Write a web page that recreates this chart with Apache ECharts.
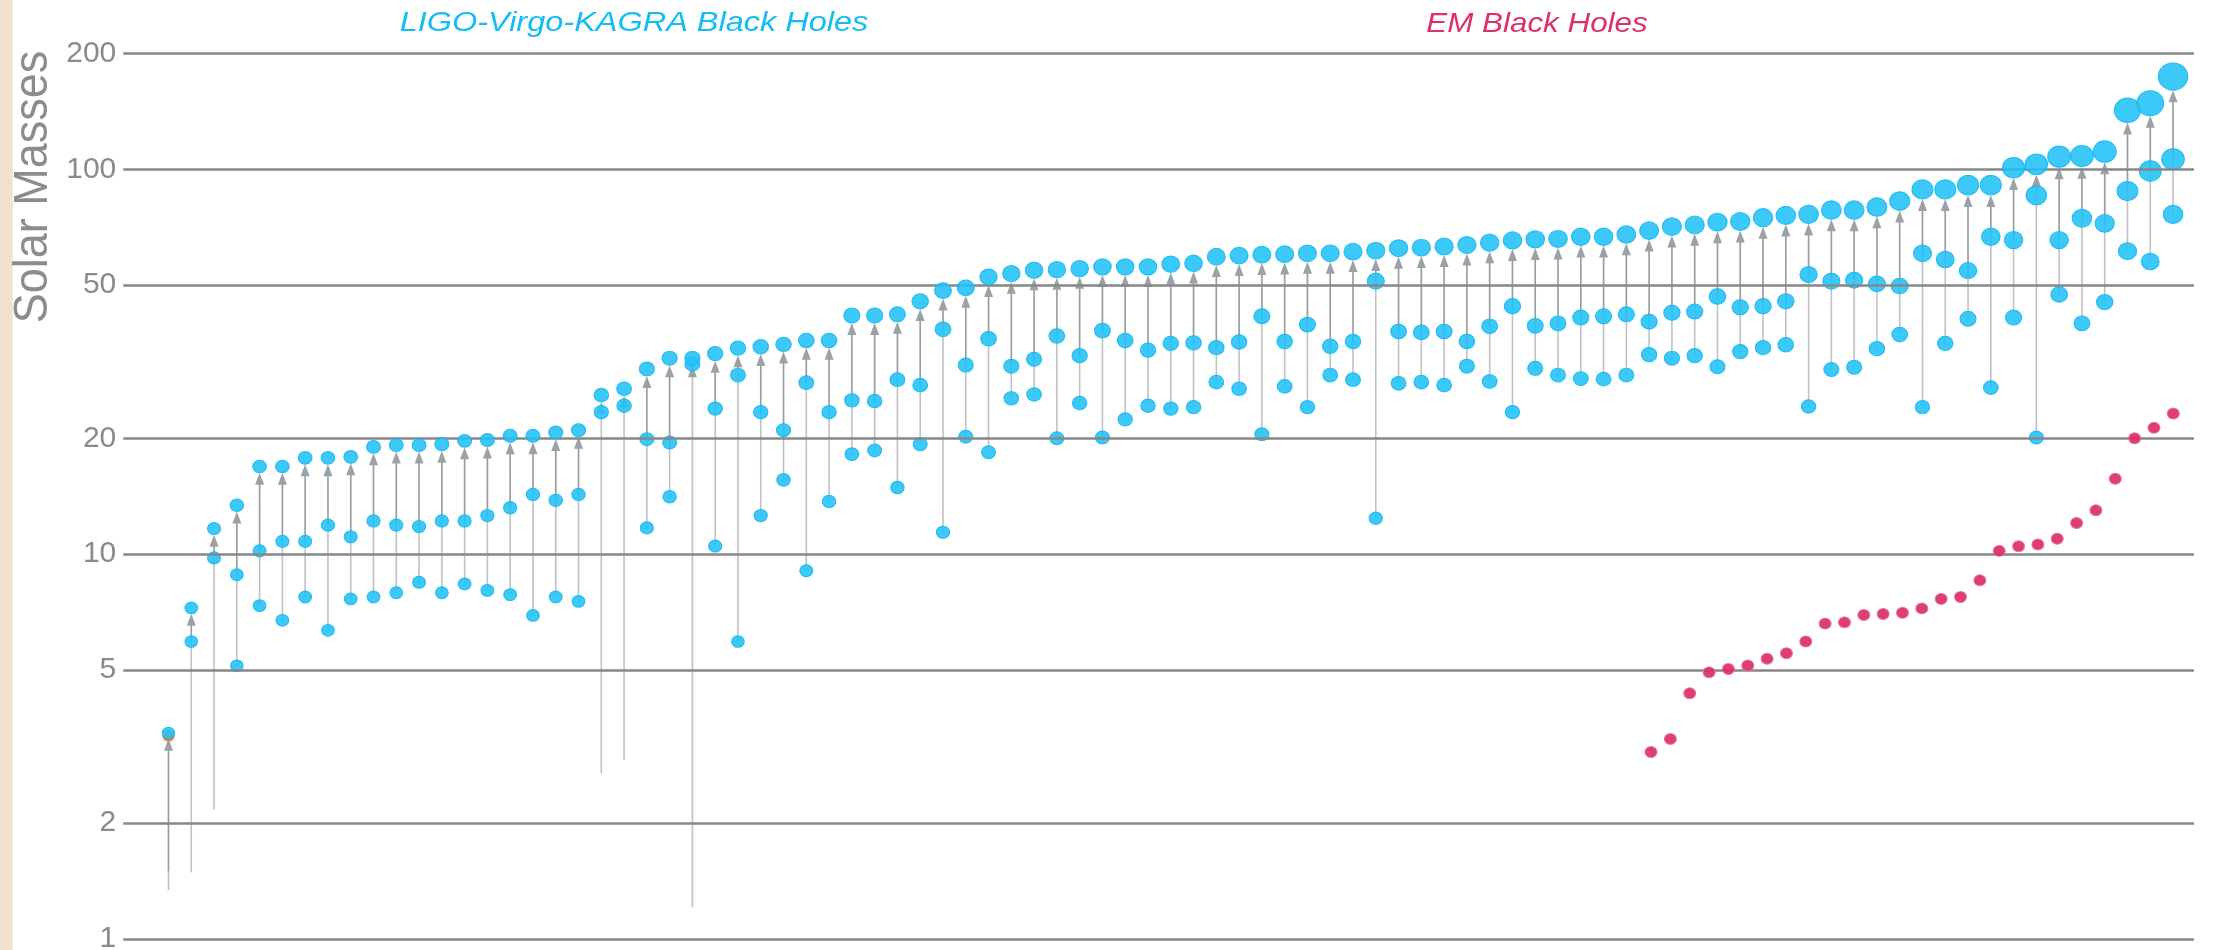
<!DOCTYPE html>
<html><head><meta charset="utf-8">
<script src="https://cdn.jsdelivr.net/npm/echarts@6/dist/echarts.min.js"></script>
<style>html,body{margin:0;padding:0;background:#fff}#c{width:2215px;height:950px}</style>
</head><body><div id="c"></div>
<script>
// ---- data (solar masses), events sorted by final mass ----
const finalMass = [3.43,7.25,11.65,13.4,16.9,16.9,17.8,17.8,17.9,19.0,19.2,19.2,19.3,19.7,19.8,20.3,20.3,20.7,21.0,25.9,26.9,30.3,32.3,32.3,33.2,34.3,34.6,35.1,35.9,35.9,41.7,41.7,42.0,45.4,48.4,49.2,52.5,53.6,54.7,54.9,55.2,55.8,55.8,55.8,56.7,57.0,59.3,59.7,60.0,60.2,60.5,60.5,61.1,61.5,62.4,62.6,63.0,63.6,64.5,65.4,65.8,66.0,66.8,66.8,67.7,69.3,71.0,71.7,72.9,73.2,74.9,75.9,76.4,78.4,78.4,79.8,82.7,88.7,88.7,91.0,91.0,101.0,103.1,107.9,108.3,111.2,142.4,148.5,174.2];
const primaryMass = [1.5,5.93,9.78,8.84,10.2,10.8,10.8,11.9,11.1,12.2,11.9,11.8,12.2,12.2,12.6,13.2,14.3,13.8,14.3,23.4,24.3,19.9,19.5,31.2,23.9,29.2,23.4,21.0,27.9,23.4,25.1,25.0,28.4,27.5,38.4,31.0,36.3,30.8,32.1,36.9,32.8,38.1,35.9,33.9,35.3,35.4,34.4,35.6,41.5,35.7,39.5,34.7,35.7,51.2,37.9,37.7,37.9,35.7,39.1,44.1,39.2,39.8,41.2,41.5,42.0,40.2,42.4,42.7,46.7,43.8,44.1,45.4,53.3,51.2,51.5,50.4,49.7,60.5,58.3,54.6,66.8,65.5,85.6,65.5,74.6,72.4,87.8,99.0,106.2];
const secondaryMass = [1.34,1.49,2.17,5.13,7.35,6.73,7.74,6.34,7.65,7.74,7.94,8.45,7.94,8.37,8.05,7.85,6.93,7.74,7.54,2.69,2.92,11.7,14.1,1.21,10.5,5.93,12.6,15.6,9.06,13.7,18.2,18.6,14.9,19.3,11.4,20.2,18.4,25.4,26.0,20.0,24.7,20.1,22.4,24.3,23.9,24.1,28.0,26.9,20.5,27.3,24.1,29.2,28.4,12.4,27.8,28.0,27.5,30.8,28.1,23.4,30.4,29.2,28.6,28.5,29.2,33.0,32.3,32.8,30.7,33.6,34.4,35.0,24.2,30.2,30.6,34.2,37.2,24.1,35.3,40.9,27.1,41.2,20.1,47.3,39.8,45.2,61.3,57.6,76.4];
const emMass = [3.06,3.31,4.35,4.93,5.03,5.14,5.35,5.53,5.93,6.6,6.65,6.95,6.99,7.04,7.23,7.65,7.74,8.55,10.2,10.48,10.6,10.97,12.05,13.0,15.7,20.0,21.3,23.2];
const yTicks = [1,2,5,10,20,50,100,200];
const groupTitles = ['LIGO-Virgo-KAGRA Black Holes','EM Black Holes'];
const yName = 'Solar Masses';
const BH_MIN = 3; // lighter components (neutron stars) get a stem but no dot

// ---- derived ----
const dotSize = m => { const w = 12 + 0.1 * m; return [w, w * 0.93]; };
const eventRows = finalMass.map((f, i) => [i, f, primaryMass[i], secondaryMass[i]]);
const finalPts = finalMass.map((f, i) => [i, f]);
const compPts = [];
primaryMass.forEach((m, i) => { if (m >= BH_MIN) compPts.push([i, m]); });
secondaryMass.forEach((m, i) => { if (m >= BH_MIN) compPts.push([i, m]); });
const emPts = emMass.map((m, k) => [k, m]);

const BLUE = '#22c1f7', BLUE_EDGE = '#10b5ee', RED = '#d9296a';
const FONT = '"Liberation Sans", Arial, sans-serif';

const chart = echarts.init(document.getElementById('c'), null, {renderer: 'canvas'});
chart.setOption({
  animation: false,
  backgroundColor: '#ffffff',
  grid: {left: 123.3, right: 21, top: 53.5, bottom: 11, containLabel: false},
  xAxis: [
    {type: 'value', min: -1.984, max: 88.92, show: false},
    {type: 'value', min: -78.98, max: 28.07, show: false}
  ],
  yAxis: {type: 'log', logBase: 10, min: 1, max: 200,
    axisLine: {show: false}, axisTick: {show: false}, axisLabel: {show: false}, splitLine: {show: false}},
  graphic: [
    {type: 'rect', left: 0, top: 0, shape: {width: 12.7, height: 950}, style: {fill: '#efe1cc'}, z: 0},
    {type: 'text', x: 634, y: 23, scaleX: 1.16, style: {text: groupTitles[0], fill: '#12bdf4',
      font: 'italic 28px ' + FONT, textAlign: 'center', textVerticalAlign: 'middle'}},
    {type: 'text', x: 1537, y: 24, scaleX: 1.12, style: {text: groupTitles[1], fill: '#de2f6c',
      font: 'italic 28px ' + FONT, textAlign: 'center', textVerticalAlign: 'middle'}},
    {type: 'text', x: 33.5, y: 187, rotation: Math.PI / 2, scaleY: 1.08, style: {text: yName, fill: '#8c8c8c',
      font: '45px ' + FONT, textAlign: 'center', textVerticalAlign: 'middle'}}
  ],
  series: [
    {
      type: 'scatter', data: [], z: 1, silent: true,
      markLine: {
        silent: true, symbol: 'none', animation: false,
        lineStyle: {color: '#878787', width: 2.5, type: 'solid'},
        emphasis: {disabled: true},
        label: {show: true, position: 'start', distance: 7, formatter: p => String(p.value),
          color: '#8a8a8a', fontSize: 30, fontFamily: FONT},
        data: yTicks.map(v => ({yAxis: v}))
      }
    },
    {
      type: 'custom', data: eventRows, z: 2, silent: true,
      encode: {x: 0, y: 1},
      renderItem: function (params, api) {
        const x = api.value(0), f = api.value(1), a = api.value(2), b = api.value(3);
        const top = api.coord([x, f]);
        const pa = api.coord([x, a]);
        const pb = api.coord([x, b]);
        const tipY = top[1] + dotSize(f)[1] / 2;
        const baseY = tipY + 11;
        const st = {stroke: 'rgba(100,108,116,0.42)', lineWidth: 1.6};
        return {type: 'group', children: [
          {type: 'line', shape: {x1: pb[0], y1: pb[1], x2: top[0], y2: baseY}, style: st},
          {type: 'line', shape: {x1: pa[0], y1: pa[1], x2: top[0], y2: baseY}, style: st},
          {type: 'polygon', shape: {points: [[top[0], tipY], [top[0] - 4.5, baseY + 1], [top[0] + 4.5, baseY + 1]]},
            style: {fill: '#9ca1a6'}}
        ]};
      }
    },
    {
      type: 'scatter', data: [finalPts[0]], z: 3, silent: true,
      symbolSize: v => dotSize(v[1]), symbolOffset: [0, 3],
      itemStyle: {color: '#e38a3a', opacity: 1}
    },
    {
      type: 'scatter', data: compPts, z: 4, silent: true,
      symbolSize: v => dotSize(v[1]),
      itemStyle: {color: BLUE, opacity: 0.88, borderColor: BLUE_EDGE, borderWidth: 1}
    },
    {
      type: 'scatter', data: finalPts, z: 5, silent: true,
      symbolSize: v => dotSize(v[1]),
      itemStyle: {color: BLUE, opacity: 0.88, borderColor: BLUE_EDGE, borderWidth: 1}
    },
    {
      type: 'scatter', data: emPts, xAxisIndex: 1, z: 5, silent: true,
      symbolSize: [12, 11],
      itemStyle: {color: RED, opacity: 0.9, borderColor: '#e77199', borderWidth: 1}
    }
  ]
});
</script>
</body></html>
